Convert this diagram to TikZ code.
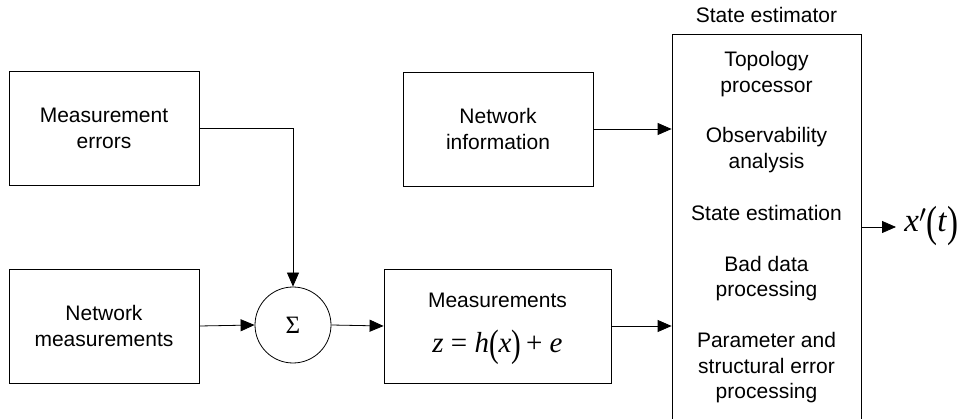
\documentclass[tikz,border=0pt]{standalone}
\usepackage{fontspec}
\setmainfont{Liberation Sans}
\newfontfamily\tms{Liberation Serif}
\usetikzlibrary{arrows.meta,positioning}
\newcommand{\Lp}{\raisebox{-0.14em}{\scalebox{1}[1.32]{(}}}
\newcommand{\Rp}{\raisebox{-0.14em}{\scalebox{1}[1.32]{)}}}
\tikzset{
  blk/.style={draw, line width=0.8pt, inner sep=0pt, minimum width=190pt, minimum height=114pt},
  txt/.style={align=center, inner sep=0pt},
  frm/.style={inner sep=0pt, font=\tms\fontsize{29}{31}\selectfont},
}

\begin{document}
\begin{tikzpicture}[x=1pt, y=-1pt, font=\fontsize{21}{25.5}\selectfont,
    >={Triangle[length=14pt,width=12pt]}, line width=0.8pt]
\useasboundingbox (0,0) rectangle (971,419);
\clip (0,0) rectangle (971,419);
% ---------- inputs on the left ----------
\node[blk] (err) at (104,128.5) {};
\node[txt] at (err) {Measurement\\errors};
\node[blk] (netmeas) at (104,326) {};
\node[txt] at (netmeas) {Network\\measurements};
\node[draw, circle, minimum size=76pt, inner sep=0pt,
      font=\tms\fontsize{25}{27}\selectfont] (sum) at (293,325) {Σ};
% ---------- middle blocks ----------
\node[blk] (netinfo) at (498,129) {};
\node[txt] at (netinfo) {Network\\information};
\node[blk, minimum width=227pt] (meas) at (497.5,326) {};
\node[txt] at (497.5,300) {Measurements};
\node[frm] at (497.5,347) {\textit{z} = \textit{h}\Lp\textit{x}\Rp\,+ \textit{e}};
% ---------- state estimator (runs past the bottom edge) ----------
\node[blk, minimum width=189pt, minimum height=396pt] (se) at (766.5,232) {};
\node[txt] (setitle) at (766.5,15) {State estimator};
\node[txt] at (766.5,74) {Topology\\processor};
\node[txt] at (766.5,150) {Observability\\analysis};
\node[txt] at (766.5,213) {State estimation};
\node[txt] at (766.5,278.5) {Bad data\\processing};
\node[txt] at (766.5,368) {Parameter and\\structural error\\processing};
\node[frm, anchor=west, font=\tms\fontsize{33}{35}\selectfont] (xout) at (904,226) {\textit{x}$'$\Lp\textit{t}\Rp};
% ---------- connectors ----------
\draw[->] (err.east) -| (sum.north);
\draw[->] (netmeas.east) -- (sum.west);
\draw[->] (sum.east) -- (meas.west);
\draw[->] (netinfo.east) -- (netinfo.east -| se.west);
\draw[->] (meas.east) -- (meas.east -| se.west);
\draw[->] (se.east |- 0,227) -- ([xshift=-8pt]xout.west |- 0,227);
\end{tikzpicture}
\end{document}
